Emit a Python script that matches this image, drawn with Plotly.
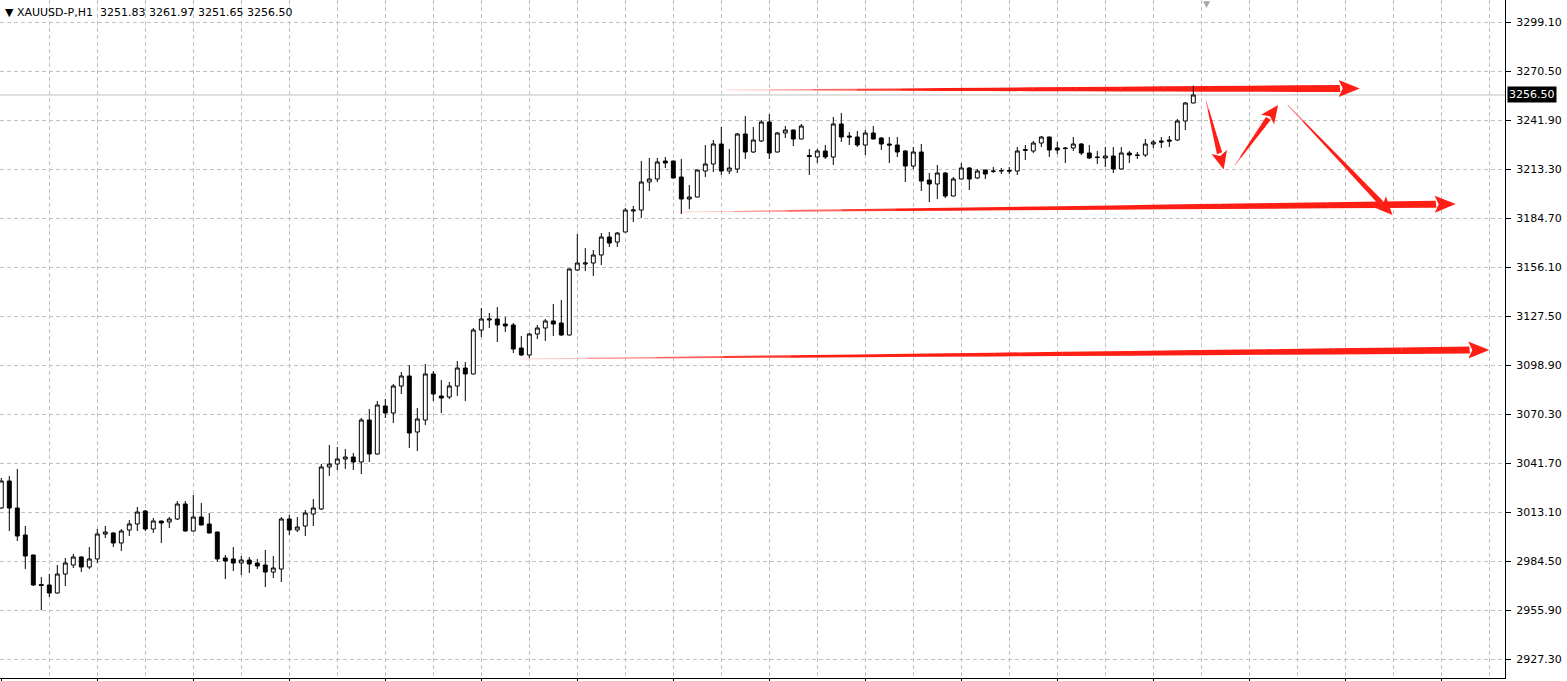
import math
import plotly.graph_objects as go

# XAUUSD-P, H1 bars (oldest first)
opens = [
    3015.43, 3031.20, 3015.43, 2999.67, 2988.00, 2970.78, 2970.49, 2965.82, 2976.91, 2982.16,
    2986.83, 2980.99, 2985.67, 3000.26, 3000.84, 2995.00, 3002.59, 3006.10, 3013.68, 3003.18,
    3007.85, 3007.26, 3009.01, 3017.77, 3002.01, 3010.17, 3006.10, 3001.42, 2986.25, 2985.67,
    2983.33, 2985.08, 2983.33, 2982.16, 2978.07, 2979.83, 3009.01, 3002.59, 3004.93, 3011.93,
    3014.85, 3039.36, 3041.12, 3044.04, 3045.20, 3042.28, 3066.80, 3046.96, 3074.97, 3070.88,
    3086.65, 3092.48, 3059.79, 3066.80, 3093.65, 3080.81, 3080.22, 3086.65, 3097.15, 3093.65,
    3119.33, 3125.17, 3125.75, 3122.83, 3122.25, 3108.83, 3104.74, 3116.99, 3120.50, 3124.59,
    3123.41, 3116.41, 3154.34, 3157.85, 3158.43, 3163.10, 3173.60, 3170.69, 3176.52, 3188.78,
    3189.36, 3205.71, 3207.46, 3217.97, 3217.97, 3208.63, 3195.79, 3196.95, 3212.13, 3216.22,
    3227.89, 3212.13, 3213.30, 3233.73, 3223.22, 3229.64, 3240.73, 3223.22, 3234.31, 3236.06,
    3230.81, 3221.17, 3220.30, 3223.81, 3220.30, 3239.56, 3232.56, 3231.97, 3227.30, 3234.31,
    3231.39, 3227.89, 3227.30, 3223.81, 3215.05, 3223.22, 3206.88, 3204.55, 3210.96, 3197.54,
    3207.46, 3213.88, 3208.04, 3212.71, 3211.90, 3212.10, 3212.40, 3212.13, 3224.10, 3223.81,
    3228.47, 3231.97, 3225.56, 3225.56, 3225.56, 3227.89, 3222.64, 3220.30, 3219.72, 3220.88,
    3213.30, 3222.64, 3221.47, 3221.47, 3227.89, 3229.64, 3230.22, 3230.22, 3241.31, 3251.83,
]
highs = [
    3032.94, 3034.11, 3038.20, 3004.93, 2988.30, 2975.15, 2976.91, 2982.16, 2986.25, 2988.59,
    2987.42, 2992.66, 3003.18, 3004.93, 3001.42, 3003.18, 3008.43, 3016.01, 3014.26, 3009.59,
    3008.00, 3010.17, 3019.52, 3019.52, 3023.02, 3018.35, 3012.51, 3001.60, 2988.00, 2992.66,
    2987.42, 2986.83, 2985.67, 2990.92, 2987.42, 3010.17, 3011.34, 3010.17, 3014.26, 3020.69,
    3041.12, 3052.20, 3051.03, 3049.87, 3047.54, 3067.96, 3073.22, 3077.89, 3079.06, 3087.82,
    3094.81, 3098.90, 3073.80, 3099.49, 3095.40, 3090.15, 3088.98, 3101.24, 3100.65, 3120.50,
    3132.17, 3129.25, 3132.75, 3126.92, 3123.41, 3115.83, 3117.58, 3122.25, 3125.75, 3134.51,
    3136.84, 3155.20, 3175.36, 3167.18, 3166.02, 3175.94, 3176.52, 3176.52, 3190.53, 3191.70,
    3217.97, 3219.72, 3219.72, 3220.30, 3218.20, 3219.14, 3203.96, 3212.90, 3227.30, 3230.22,
    3237.81, 3224.97, 3234.31, 3244.23, 3237.81, 3241.90, 3245.40, 3234.89, 3238.40, 3236.30,
    3239.56, 3224.97, 3224.97, 3227.30, 3243.65, 3245.98, 3234.89, 3235.48, 3236.06, 3238.40,
    3231.97, 3231.97, 3231.97, 3224.39, 3226.14, 3227.89, 3210.96, 3215.63, 3211.55, 3208.63,
    3216.80, 3214.46, 3213.30, 3212.90, 3214.46, 3213.88, 3214.46, 3226.14, 3227.30, 3229.64,
    3232.56, 3232.20, 3229.05, 3226.14, 3231.97, 3228.47, 3227.30, 3223.81, 3226.14, 3226.14,
    3226.14, 3223.81, 3223.22, 3230.81, 3230.22, 3231.97, 3232.56, 3242.48, 3252.40, 3261.97,
]
lows = [
    3014.90, 3002.01, 2996.17, 2979.83, 2969.91, 2955.90, 2963.48, 2965.50, 2969.91, 2980.41,
    2978.07, 2979.83, 2983.33, 2997.92, 2992.66, 2990.34, 2999.09, 3002.01, 3002.01, 3000.84,
    2995.00, 3003.76, 3008.43, 3001.70, 3001.70, 3005.30, 3000.60, 2983.91, 2973.99, 2978.66,
    2976.32, 2977.49, 2979.83, 2969.32, 2974.57, 2972.24, 2999.67, 3001.42, 2999.09, 3004.93,
    3014.26, 3034.11, 3037.61, 3038.20, 3037.61, 3035.28, 3042.28, 3046.60, 3067.96, 3065.05,
    3081.98, 3050.45, 3048.71, 3063.88, 3077.89, 3070.88, 3079.06, 3080.81, 3077.89, 3093.40,
    3115.24, 3120.50, 3112.32, 3118.16, 3105.91, 3104.16, 3102.99, 3114.08, 3112.91, 3115.83,
    3115.83, 3116.10, 3153.76, 3153.76, 3150.84, 3157.26, 3167.76, 3167.76, 3176.30, 3182.36,
    3184.69, 3200.46, 3205.71, 3213.88, 3207.80, 3187.03, 3189.95, 3196.70, 3208.63, 3211.55,
    3209.79, 3210.38, 3210.96, 3219.14, 3222.64, 3229.05, 3219.14, 3223.00, 3231.39, 3226.72,
    3230.60, 3209.79, 3216.80, 3219.14, 3215.63, 3229.05, 3227.30, 3226.14, 3221.47, 3230.60,
    3224.39, 3216.80, 3220.30, 3205.71, 3213.30, 3200.46, 3194.03, 3195.79, 3196.37, 3197.30,
    3207.20, 3201.04, 3207.46, 3207.46, 3210.96, 3210.38, 3210.38, 3209.79, 3218.55, 3222.64,
    3226.14, 3220.30, 3222.05, 3216.80, 3223.81, 3221.47, 3219.14, 3216.22, 3214.46, 3210.96,
    3213.10, 3216.80, 3219.14, 3220.30, 3225.56, 3225.56, 3226.14, 3229.64, 3236.06, 3251.65,
]
closes = [
    3031.20, 3015.43, 2999.09, 2987.42, 2970.49, 2970.20, 2965.82, 2976.91, 2983.33, 2986.83,
    2980.99, 2985.67, 3000.26, 3001.42, 2995.00, 3002.01, 3006.10, 3013.09, 3003.18, 3007.85,
    3006.68, 3009.01, 3017.77, 3002.01, 3010.17, 3005.51, 3000.84, 2985.67, 2984.50, 2983.33,
    2985.08, 2982.75, 2981.58, 2978.07, 2980.41, 3009.01, 3002.59, 3004.34, 3012.51, 3015.43,
    3039.36, 3041.12, 3044.04, 3045.20, 3042.28, 3066.80, 3046.96, 3075.55, 3070.88, 3086.65,
    3092.48, 3059.21, 3067.38, 3093.65, 3081.98, 3079.64, 3086.65, 3097.15, 3093.65, 3119.33,
    3125.75, 3125.75, 3122.25, 3121.67, 3108.24, 3104.74, 3116.99, 3120.50, 3124.59, 3122.83,
    3116.41, 3154.93, 3158.43, 3158.43, 3163.10, 3173.60, 3170.10, 3175.94, 3189.36, 3189.36,
    3205.71, 3207.46, 3217.38, 3216.80, 3208.04, 3195.79, 3196.95, 3212.71, 3216.22, 3227.89,
    3212.13, 3213.88, 3233.73, 3223.22, 3230.22, 3240.73, 3222.64, 3234.31, 3236.06, 3230.81,
    3238.40, 3220.59, 3223.81, 3220.30, 3239.56, 3231.97, 3231.97, 3227.30, 3234.31, 3230.81,
    3227.89, 3227.30, 3223.22, 3215.05, 3223.22, 3206.30, 3204.55, 3210.96, 3197.54, 3207.46,
    3213.88, 3207.46, 3212.13, 3210.38, 3212.10, 3212.40, 3212.10, 3223.81, 3224.70, 3228.47,
    3231.97, 3224.39, 3224.39, 3225.30, 3227.89, 3222.64, 3219.72, 3220.00, 3220.88, 3213.30,
    3222.64, 3221.47, 3221.30, 3227.89, 3229.05, 3229.05, 3229.64, 3241.31, 3251.83, 3256.50,
]
bars = list(range(len(closes)))

price_ticks = [2927.30, 2955.90, 2984.50, 3013.10, 3041.70, 3070.30, 3098.90,
               3127.50, 3156.10, 3184.70, 3213.30, 3241.90, 3270.50, 3299.10]
last_price = 3256.50
title_text = "XAUUSD-P,H1\u00a0\u00a03251.83 3261.97 3251.65 3256.50"

# hand drawn red arrows, start -> tip in (bar, price)
arrow_x0 = [90.5, 84.8, 64.8, 150.6, 154.2, 160.8]
arrow_y0 = [3259.4, 3188.2, 3102.4, 3253.0, 3215.6, 3250.7]
arrow_x1 = [169.8, 181.8, 186.0, 152.8, 159.6, 173.9]
arrow_y1 = [3260.3, 3192.9, 3107.7, 3213.0, 3250.7, 3186.5]

W, H = 1567, 681
M_RIGHT, M_BOTTOM = 62, 3
X_RANGE = [-0.1625, 187.96]
Y_RANGE = [2916.21, 3311.94]
PX_X = (W - M_RIGHT) / (X_RANGE[1] - X_RANGE[0])
PX_Y = (H - M_BOTTOM) / (Y_RANGE[1] - Y_RANGE[0])
GRID = "#c0c0c0"
RED = (255, 30, 20)


def arrow_shapes(x0, y0, x1, y1, shaft=7.0, head_w=17.0, head_l=20.0, fade=0.3, segs=14):
    # work in pixel space so the arrow keeps its thickness on both axes
    X0, Y0, X1, Y1 = x0 * PX_X, y0 * PX_Y, x1 * PX_X, y1 * PX_Y
    length = math.hypot(X1 - X0, Y1 - Y0)
    ux, uy = (X1 - X0) / length, (Y1 - Y0) / length
    nx, ny = -uy, ux
    neck = length - head_l

    def pt(t, off):
        return ((X0 + ux * t + nx * off) / PX_X, (Y0 + uy * t + ny * off) / PX_Y)

    def path(points):
        return "M " + " L ".join(f"{a:.4f},{b:.4f}" for a, b in points) + " Z"

    shapes = []
    for k in range(segs):
        ta, tb = neck * k / segs, neck * (k + 1) / segs
        wa = 0.6 + (shaft - 0.6) * ta / neck
        wb = 0.6 + (shaft - 0.6) * tb / neck
        f = min(1.0, (k + 0.5) / segs / fade)
        col = tuple(int(255 + (c - 255) * (0.2 + 0.8 * f)) for c in RED)
        shapes.append(dict(
            type="path", xref="x", yref="y", layer="between",
            path=path([pt(ta, wa / 2), pt(tb, wb / 2), pt(tb + 0.6, -wb / 2), pt(ta, -wa / 2)]),
            fillcolor="rgb(%d,%d,%d)" % col, line=dict(width=0),
        ))
    shapes.append(dict(
        type="path", xref="x", yref="y", layer="between",
        path=path([pt(neck - 1, head_w / 2), pt(length, 0), pt(neck - 1, -head_w / 2), pt(neck + 3, 0)]),
        fillcolor="rgb(%d,%d,%d)" % RED, line=dict(width=0),
    ))
    return shapes


fig = go.Figure()
fig.add_trace(
    go.Candlestick(
        x=bars, open=opens, high=highs, low=lows, close=closes,
        increasing=dict(fillcolor="white", line=dict(color="black", width=1)),
        decreasing=dict(fillcolor="black", line=dict(color="black", width=1)),
        whiskerwidth=0,
        hoverinfo="skip",
    )
)

shapes = [dict(type="line", xref="paper", yref="y", x0=0, x1=1, y0=last_price, y1=last_price,
               line=dict(color=GRID, width=1), layer="between")]
long_arrow = [True, True, True, False, False, False]
for i in range(len(arrow_x0)):
    if long_arrow[i]:
        shapes += arrow_shapes(arrow_x0[i], arrow_y0[i], arrow_x1[i], arrow_y1[i])
    else:
        shapes += arrow_shapes(arrow_x0[i], arrow_y0[i], arrow_x1[i], arrow_y1[i],
                               shaft=5.5, head_w=16, head_l=17, fade=0.15, segs=6)

font = dict(family="DejaVu Sans, Tahoma, sans-serif", size=11, color="black")

fig.update_layout(
    width=W, height=H,
    margin=dict(l=0, r=M_RIGHT, t=0, b=M_BOTTOM),
    paper_bgcolor="white", plot_bgcolor="white",
    showlegend=False,
    font=font,
    shapes=shapes,
    xaxis=dict(
        range=X_RANGE, rangeslider=dict(visible=False),
        tickvals=list(range(0, 188, 12)), showticklabels=False,
        ticks="outside", ticklen=3, tickcolor="black",
        showline=True, linecolor="black", linewidth=1,
        showgrid=False,
        minor=dict(tickvals=list(range(6, 188, 6)), showgrid=True, gridcolor=GRID,
                   griddash="4px,3px", gridwidth=1, ticks=""),
        zeroline=False, fixedrange=True,
    ),
    yaxis=dict(
        range=Y_RANGE, side="right",
        tickvals=price_ticks, ticktext=[f"{v:.2f}" for v in price_ticks],
        ticks="outside", ticklen=5, tickcolor="black", ticklabelstandoff=3,
        showline=True, linecolor="black", linewidth=1, mirror=True,
        showgrid=True, gridcolor=GRID, griddash="4px,3px", gridwidth=1,
        zeroline=False, fixedrange=True,
    ),
    annotations=[
        dict(xref="paper", yref="paper", x=0, y=1, xanchor="left", yanchor="top",
             xshift=3, yshift=-4, showarrow=False, text="\u25bc " + title_text, font=font),
        dict(xref="paper", yref="y", x=1, y=last_price, xanchor="left", yanchor="middle",
             xshift=2, showarrow=False, text=f"{last_price:.2f}", bgcolor="black",
             borderpad=1, font=dict(family=font["family"], size=11, color="white")),
        dict(xref="x", yref="paper", x=150.7, y=1, xanchor="center", yanchor="top",
             yshift=3, showarrow=False, text="\u25bc", font=dict(size=9, color="#a8a8a8")),
    ],
)

fig.write_html(
    "out.html",
    config={"displayModeBar": False},
    post_script="document.body.style.margin='0';document.body.style.overflow='hidden';",
)
